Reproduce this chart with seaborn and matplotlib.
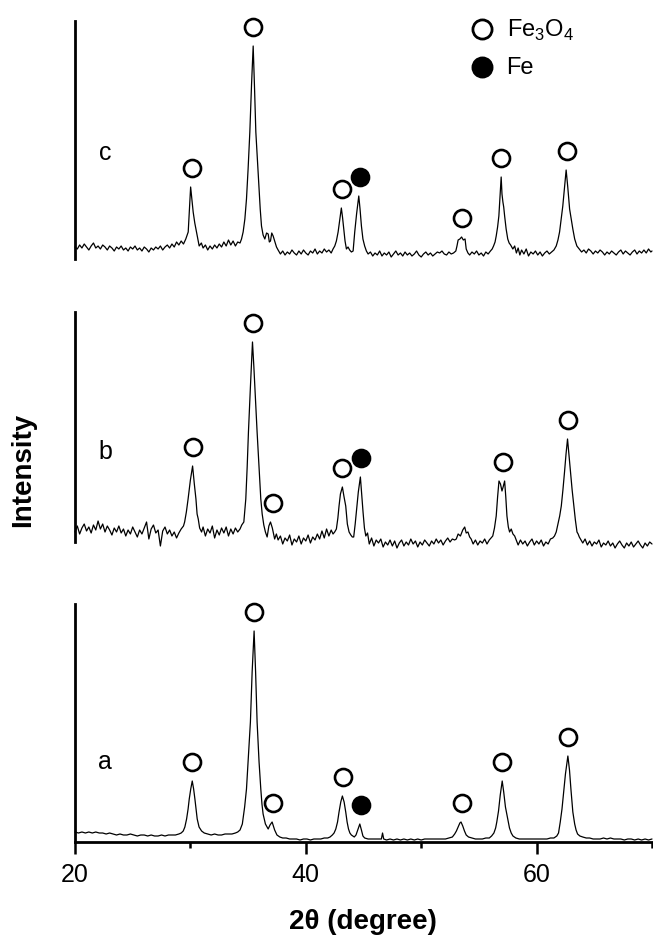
import matplotlib
matplotlib.use('Agg')
import matplotlib.pyplot as plt
import seaborn as sns

sns.set_theme(style='white')
plt.rcParams['font.family'] = ['Liberation Sans', 'DejaVu Sans']
plt.rcParams['mathtext.fontset'] = 'custom'
plt.rcParams['mathtext.rm'] = 'Liberation Sans'
plt.rcParams['text.color'] = 'black'
plt.rcParams['xtick.color'] = 'black'
plt.rcParams['xtick.labelcolor'] = 'black'

# --- XRD pattern c (top) ---
two_theta_c = [20.0, 20.2, 20.4, 20.6, 20.8, 21.0, 21.2, 21.4, 21.6, 21.8, 22.0, 22.2, 22.4, 22.6, 22.8,
               23.0, 23.2, 23.4, 23.6, 23.8, 24.0, 24.2, 24.4, 24.6, 24.8, 25.0, 25.2, 25.4, 25.6, 25.8,
               26.0, 26.2, 26.4, 26.6, 26.8, 27.0, 27.2, 27.4, 27.6, 27.8, 28.0, 28.2, 28.4, 28.6, 28.8,
               29.0, 29.2, 29.4, 29.6, 29.81, 30.02, 30.24, 30.38, 30.53, 30.76, 30.95, 31.1, 31.3, 31.5,
               31.7, 31.9, 32.1, 32.3, 32.5, 32.7, 32.9, 33.1, 33.3, 33.5, 33.7, 33.9, 34.1, 34.3, 34.43,
               34.57, 34.72, 34.86, 35.0, 35.15, 35.3, 35.44, 35.56, 35.67, 35.8, 35.93, 36.05, 36.16,
               36.3, 36.45, 36.6, 36.74, 36.84, 36.94, 37.05, 37.17, 37.3, 37.46, 37.6, 37.8, 38.0, 38.2,
               38.4, 38.6, 38.8, 39.0, 39.2, 39.4, 39.6, 39.8, 40.0, 40.2, 40.4, 40.6, 40.8, 41.0, 41.2,
               41.4, 41.6, 41.8, 42.0, 42.2, 42.36, 42.51, 42.65, 42.8, 42.95, 43.08, 43.18, 43.29, 43.4,
               43.52, 43.66, 43.8, 43.95, 44.1, 44.24, 44.4, 44.59, 44.7, 44.82, 44.95, 45.1, 45.25, 45.4,
               45.6, 45.8, 46.0, 46.2, 46.4, 46.6, 46.8, 47.0, 47.2, 47.4, 47.6, 47.8, 48.0, 48.2, 48.4,
               48.6, 48.8, 49.0, 49.2, 49.4, 49.6, 49.8, 50.0, 50.2, 50.4, 50.6, 50.8, 51.0, 51.2, 51.4,
               51.6, 51.8, 52.0, 52.2, 52.4, 52.6, 52.8, 53.0, 53.1, 53.2, 53.35, 53.5, 53.65, 53.8, 53.9,
               54.05, 54.2, 54.4, 54.6, 54.8, 55.0, 55.2, 55.4, 55.6, 55.8, 56.0, 56.15, 56.27, 56.4, 56.5,
               56.62, 56.73, 56.84, 56.93, 57.0, 57.08, 57.15, 57.23, 57.36, 57.5, 57.62, 57.75, 57.94,
               58.1, 58.25, 58.4, 58.55, 58.7, 58.9, 59.1, 59.3, 59.5, 59.7, 59.9, 60.1, 60.3, 60.5, 60.7,
               60.9, 61.1, 61.3, 61.5, 61.7, 61.85, 61.99, 62.13, 62.27, 62.42, 62.56, 62.7, 62.86, 63.0,
               63.14, 63.3, 63.49, 63.7, 63.9, 64.1, 64.3, 64.5, 64.7, 64.9, 65.1, 65.3, 65.5, 65.7, 65.9,
               66.1, 66.3, 66.5, 66.7, 66.9, 67.1, 67.3, 67.5, 67.7, 67.9, 68.1, 68.3, 68.5, 68.7, 68.9,
               69.1, 69.3, 69.5, 69.7, 69.9, 70.0]
intensity_c = [12, 10, 14, 11, 15, 12, 9, 13, 16, 11, 13, 10, 14, 12, 9,
               13, 11, 8, 12, 10, 13, 9, 11, 8, 12, 10, 13, 9, 11, 8,
               12, 10, 7, 11, 9, 12, 10, 13, 9, 12, 14, 11, 15, 12, 17,
               14, 18, 15, 20, 27, 72, 47, 36, 27, 13, 16, 11, 14, 9,
               13, 10, 14, 11, 15, 12, 17, 13, 19, 14, 18, 13, 17, 16, 20,
               27, 40, 60, 90, 127, 175, 213, 170, 127, 100, 73, 50, 33,
               24, 20, 26, 25, 17, 18, 26, 23, 18, 12, 9, 5, 8, 4,
               7, 5, 9, 6, 4, 8, 5, 9, 6, 4, 8, 6, 10, 5, 8,
               6, 10, 7, 9, 6, 10, 13, 18, 27, 40, 51, 42, 30, 18,
               10, 12, 9, 7, 8, 27, 45, 63, 50, 33, 20, 13, 8, 5,
               7, 3, 6, 4, 8, 3, 6, 4, 7, 2, 5, 8, 4, 6, 3,
               7, 4, 6, 3, 5, 8, 4, 2, 5, 7, 4, 6, 3, 5, 7,
               6, 8, 5, 4, 7, 5, 6, 8, 13, 19, 20, 22, 19, 20, 10,
               6, 4, 7, 5, 8, 4, 6, 3, 7, 5, 8, 10, 13, 17, 23,
               32, 43, 65, 82, 65, 57, 52, 43, 30, 20, 16, 14, 10,
               13, 6, 11, 4, 9, 5, 10, 3, 7, 5, 8, 4, 7, 3, 6,
               8, 5, 7, 9, 13, 19, 27, 40, 53, 72, 89, 72, 50, 40,
               30, 20, 13, 10, 7, 9, 6, 10, 8, 5, 8, 6, 9, 7, 4,
               7, 5, 8, 6, 4, 7, 9, 5, 8, 6, 4, 7, 9, 5, 8,
               6, 9, 6, 10, 7, 8]

# --- XRD pattern b (middle) ---
two_theta_b = [20.0, 20.2, 20.4, 20.6, 20.8, 21.0, 21.2, 21.4, 21.6, 21.8, 22.0, 22.2, 22.4, 22.6, 22.8,
               23.0, 23.2, 23.4, 23.6, 23.8, 24.0, 24.2, 24.4, 24.6, 24.8, 25.0, 25.2, 25.4, 25.6, 25.8,
               26.0, 26.2, 26.4, 26.6, 26.8, 27.0, 27.2, 27.4, 27.6, 27.8, 28.0, 28.2, 28.4, 28.6, 28.8,
               29.0, 29.2, 29.4, 29.5, 29.65, 29.8, 30.0, 30.19, 30.34, 30.48, 30.58, 30.68, 30.8, 30.97,
               31.1, 31.3, 31.5, 31.7, 31.9, 32.1, 32.3, 32.5, 32.7, 32.9, 33.1, 33.3, 33.5, 33.7, 33.9,
               34.1, 34.3, 34.45, 34.63, 34.8, 34.92, 35.03, 35.2, 35.38, 35.5, 35.58, 35.68, 35.78, 35.95,
               36.1, 36.22, 36.36, 36.5, 36.65, 36.8, 36.94, 37.1, 37.3, 37.45, 37.6, 37.8, 38.0, 38.2,
               38.4, 38.6, 38.8, 39.0, 39.2, 39.4, 39.6, 39.8, 40.0, 40.2, 40.4, 40.6, 40.8, 41.0, 41.2,
               41.4, 41.6, 41.8, 42.0, 42.2, 42.36, 42.5, 42.65, 42.78, 42.88, 43.0, 43.17, 43.3, 43.46,
               43.6, 43.75, 43.9, 44.03, 44.15, 44.28, 44.38, 44.55, 44.73, 44.85, 44.96, 45.08, 45.2,
               45.35, 45.5, 45.7, 45.9, 46.1, 46.3, 46.5, 46.7, 46.9, 47.1, 47.3, 47.5, 47.7, 47.9, 48.1,
               48.3, 48.5, 48.7, 48.9, 49.1, 49.3, 49.5, 49.7, 49.9, 50.1, 50.3, 50.5, 50.7, 50.9, 51.1,
               51.3, 51.5, 51.7, 51.9, 52.1, 52.3, 52.5, 52.7, 52.9, 53.04, 53.2, 53.4, 53.6, 53.77, 53.9,
               54.05, 54.2, 54.33, 54.5, 54.7, 54.9, 55.1, 55.3, 55.5, 55.7, 55.9, 56.05, 56.2, 56.35,
               56.5, 56.62, 56.74, 56.87, 57.0, 57.1, 57.23, 57.33, 57.43, 57.55, 57.66, 57.8, 57.95,
               58.1, 58.2, 58.4, 58.6, 58.8, 59.0, 59.2, 59.4, 59.6, 59.8, 60.0, 60.2, 60.4, 60.6, 60.8,
               61.0, 61.2, 61.4, 61.55, 61.7, 61.85, 62.0, 62.14, 62.28, 62.42, 62.55, 62.68, 62.8, 62.94,
               63.08, 63.23, 63.36, 63.5, 63.6, 63.7, 63.85, 64.0, 64.2, 64.4, 64.6, 64.8, 65.0, 65.2,
               65.4, 65.6, 65.8, 66.0, 66.2, 66.4, 66.6, 66.8, 67.0, 67.2, 67.4, 67.6, 67.8, 68.0, 68.2,
               68.4, 68.6, 68.8, 69.0, 69.2, 69.4, 69.6, 69.8, 70.0]
intensity_b = [10, 16, 8, 14, 18, 11, 15, 9, 17, 12, 21, 13, 18, 10, 16,
               12, 7, 14, 10, 16, 9, 13, 6, 12, 8, 15, 10, 5, 12, 8,
               14, 20, 3, 13, 17, 9, 12, -4, 11, 15, 8, 12, 6, 10, 4,
               9, 13, 16, 20, 30, 43, 62, 76, 58, 43, 28, 23, 14, 10,
               15, 6, 13, 9, 16, 4, 12, 7, 14, 9, 15, 6, 13, 8, 14,
               10, 13, 17, 20, 43, 75, 110, 155, 200, 175, 156, 132, 110, 75,
               43, 28, 17, 10, 5, 16, 20, 14, 3, 8, 2, 6, -2, 4,
               1, 7, -3, 3, 0, 6, -2, 4, 1, 7, -1, 5, 2, 8, 3,
               11, 4, 13, 6, 12, 8, 10, 13, 24, 36, 48, 55, 46, 36,
               18, 10, 7, 5, 5, 18, 30, 50, 65, 46, 30, 14, 6,
               9, -2, 4, -4, 2, -1, 3, -5, 0, -3, 2, -4, 1, -6, -1,
               2, -4, 0, -3, 3, -2, 1, -5, 0, -3, 2, -1, -4, 1, -2,
               3, -1, 2, -3, 1, 4, 0, 3, 2, 3, 8, 6, 12, 15, 9,
               10, 5, 3, -2, 2, -3, 1, -1, 3, -2, 2, 4, 6, 14,
               26, 45, 61, 58, 51, 55, 61, 45, 26, 15, 10, 13, 8,
               6, 3, -3, 2, -2, 1, -4, 0, 3, -3, 1, -2, 2, -4, 0,
               -2, 3, 4, 6, 10, 18, 26, 36, 52, 70, 88, 103, 88, 70,
               52, 36, 22, 10, 8, 5, 2, -1, 3, -3, 1, -4, 0, -2,
               2, -5, -1, -3, 1, -4, -1, -6, -2, 1, -3, -6, -1, -4, 0,
               -5, -2, 1, -3, -6, -1, -4, 0, -2]

# --- XRD pattern a (bottom) ---
two_theta_a = [20.0, 20.3, 20.6, 20.9, 21.2, 21.5, 21.8, 22.1, 22.4, 22.7, 23.0, 23.3, 23.6, 23.9, 24.2,
               24.5, 24.8, 25.1, 25.4, 25.7, 26.0, 26.3, 26.6, 26.9, 27.2, 27.5, 27.8, 28.1, 28.4, 28.7,
               29.0, 29.2, 29.38, 29.52, 29.67, 29.8, 29.9, 30.03, 30.16, 30.28, 30.39, 30.5, 30.59,
               30.75, 30.97, 31.2, 31.5, 31.8, 32.1, 32.4, 32.7, 33.0, 33.3, 33.6, 33.9, 34.1, 34.3, 34.5,
               34.7, 34.86, 35.0, 35.2, 35.35, 35.52, 35.65, 35.78, 35.95, 36.1, 36.2, 36.3, 36.5, 36.74,
               36.9, 37.08, 37.3, 37.5, 37.75, 38.0, 38.3, 38.6, 38.9, 39.2, 39.5, 39.8, 40.1, 40.4, 40.7,
               41.0, 41.3, 41.6, 41.9, 42.1, 42.3, 42.45, 42.6, 42.75, 42.88, 43.03, 43.17, 43.32, 43.46,
               43.58, 43.7, 43.82, 43.95, 44.2, 44.35, 44.5, 44.68, 44.82, 44.95, 45.1, 45.4, 45.7, 46.0,
               46.3, 46.55, 46.65, 46.75, 47.0, 47.3, 47.6, 47.9, 48.2, 48.5, 48.8, 49.1, 49.4, 49.7,
               50.0, 50.3, 50.6, 50.9, 51.2, 51.5, 51.8, 52.1, 52.4, 52.7, 52.9, 53.05, 53.2, 53.35,
               53.45, 53.6, 53.75, 53.9, 54.1, 54.4, 54.7, 55.0, 55.3, 55.6, 55.9, 56.1, 56.3, 56.45,
               56.55, 56.7, 56.85, 57.02, 57.15, 57.3, 57.5, 57.65, 57.8, 57.95, 58.2, 58.5, 58.8, 59.1,
               59.4, 59.7, 60.0, 60.3, 60.6, 60.9, 61.2, 61.5, 61.75, 61.9, 62.05, 62.2, 62.35, 62.5,
               62.71, 62.85, 62.98, 63.14, 63.3, 63.42, 63.55, 63.75, 64.0, 64.3, 64.6, 64.9, 65.2, 65.5,
               65.8, 66.1, 66.4, 66.7, 67.0, 67.3, 67.6, 67.9, 68.2, 68.5, 68.8, 69.1, 69.4, 69.7, 70.0]
intensity_a = [10, 9, 10, 9, 10, 9, 10, 9, 9, 8, 9, 8, 7, 8, 7,
               7, 8, 7, 6, 7, 7, 6, 7, 6, 6, 7, 6, 7, 7, 7,
               8, 9, 11, 15, 23, 33, 43, 53, 61, 53, 43, 32, 23,
               15, 11, 9, 8, 7, 8, 7, 7, 8, 8, 8, 9, 10, 12, 18,
               35, 53, 80, 120, 170, 211, 170, 120, 80, 53, 38, 28, 18, 13,
               17, 20, 12, 7, 5, 4, 4, 3, 3, 3, 2, 3, 3, 2, 3,
               3, 3, 4, 4, 5, 7, 9, 13, 20, 30, 40, 46, 40, 30,
               20, 13, 9, 7, 5, 7, 12, 18, 12, 6, 4, 3, 3, 3,
               3, 3, 9, 3, 2, 3, 2, 3, 2, 3, 2, 3, 2, 3,
               2, 3, 3, 3, 3, 3, 3, 3, 4, 5, 8, 11, 15, 19,
               20, 16, 11, 7, 5, 4, 3, 3, 3, 4, 4, 6, 9, 14,
               20, 31, 47, 61, 50, 35, 23, 14, 9, 6, 4, 3, 3, 3,
               3, 3, 3, 3, 3, 3, 4, 4, 6, 9, 20, 33, 50, 68,
               86, 72, 52, 30, 18, 12, 8, 6, 5, 4, 4, 3, 3, 3,
               4, 3, 4, 3, 3, 3, 2, 3, 3, 2, 3, 2, 3, 2, 3]

# peak positions marked by phase
fe3o4_peaks_c = [30.1, 35.4, 43.15, 53.55, 56.95, 62.6]
fe_peaks_c = [44.68]
fe3o4_peaks_b = [30.2, 35.4, 37.15, 43.15, 57.05, 62.7]
fe_peaks_b = [44.75]
fe3o4_peaks_a = [30.15, 35.5, 37.15, 43.2, 53.55, 57.0, 62.7]
fe_peaks_a = [44.8]

panels = [
    ('c', two_theta_c, intensity_c, fe3o4_peaks_c, fe_peaks_c, [75 / 653, 1 - 260 / 937, 577 / 653, 238 / 937], 238, 0.45),
    ('b', two_theta_b, intensity_b, fe3o4_peaks_b, fe_peaks_b, [75 / 653, 1 - 543 / 937, 577 / 653, 230 / 937], 230, 0.397),
    ('a', two_theta_a, intensity_a, fe3o4_peaks_a, fe_peaks_a, [75 / 653, 1 - 843 / 937, 577 / 653, 238 / 937], 238, 0.342),
]


def marker_height(xs, ys, pos, off=19):
    near = [y for x, y in zip(xs, ys) if abs(x - pos) <= 0.25]
    return max(near) + off


fig = plt.figure(figsize=(6.53, 9.37), dpi=100)
axes = {}
for label, tt, inten, p_ox, p_fe, rect, top, ylab in panels:
    ax = fig.add_axes(rect)
    axes[label] = ax
    sns.lineplot(x=tt, y=inten, ax=ax, color='black', linewidth=0.9)
    for ln in ax.lines:
        ln.set_clip_on(False)
    ax.scatter(p_ox, [marker_height(tt, inten, p) for p in p_ox], s=150,
               facecolors='white', edgecolors='black', linewidths=1.9, zorder=3, clip_on=False)
    ax.scatter(p_fe, [marker_height(tt, inten, p) for p in p_fe], s=150,
               facecolors='black', edgecolors='black', linewidths=1.9, zorder=4, clip_on=False)
    ax.set_xlim(20, 70)
    ax.set_ylim(0, top)
    ax.set_yticks([])
    ax.set_xlabel('')
    ax.set_ylabel('')
    for s in ['top', 'right']:
        ax.spines[s].set_visible(False)
    ax.spines['left'].set_linewidth(2.0)
    ax.spines['left'].set_color('black')
    ax.text(0.052, ylab, label, transform=ax.transAxes, fontsize=18, ha='center', va='center')
    if label == 'a':
        ax.spines['bottom'].set_linewidth(2.0)
        ax.spines['bottom'].set_color('black')
        ax.set_xticks([20, 40, 60])
        ax.set_xticks([30, 50, 70], minor=True)
        ax.tick_params(axis='x', which='major', direction='out', length=8.5, width=1.8,
                       labelsize=18, pad=6, bottom=True, colors='black')
        ax.tick_params(axis='x', which='minor', direction='out', length=4.5, width=1.8, bottom=True)
    else:
        ax.spines['bottom'].set_visible(False)
        ax.set_xticks([])

# legend in the top panel
ax = axes['c']
ax.scatter([0.705], [0.966], s=190, facecolors='white', edgecolors='black', linewidths=2.0,
           transform=ax.transAxes, clip_on=False, zorder=5)
ax.scatter([0.705], [0.805], s=190, facecolors='black', edgecolors='black', linewidths=2.0,
           transform=ax.transAxes, clip_on=False, zorder=5)
ax.text(0.748, 0.966, r'Fe$_\mathregular{3}$O$_\mathregular{4}$', transform=ax.transAxes,
        fontsize=17, ha='left', va='center')
ax.text(0.748, 0.805, 'Fe', transform=ax.transAxes, fontsize=17, ha='left', va='center')

fig.text(363 / 653, 1 - 922 / 937, '2θ (degree)', fontsize=20, fontweight='bold', ha='center', va='center')
fig.text(23 / 653, 1 - 470 / 937, 'Intensity', fontsize=20, fontweight='bold', rotation=90,
         ha='center', va='center')

fig.savefig('out.png', dpi=100, facecolor='white')
